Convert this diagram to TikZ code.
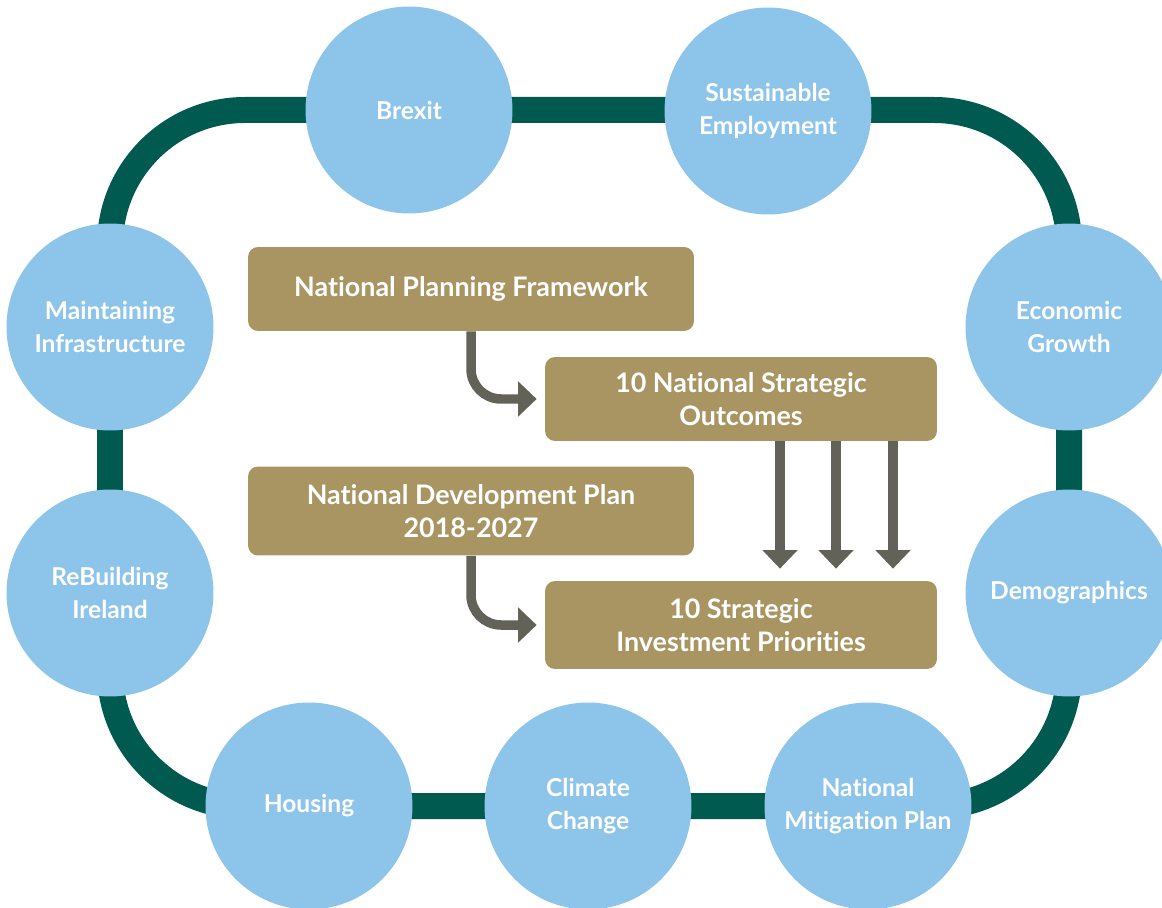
\documentclass[tikz,border=0pt]{standalone}
\usepackage{fontspec}
\setmainfont{Lato}[Ligatures=NoCommon]
\usetikzlibrary{arrows.meta,positioning}
\definecolor{track}{HTML}{005A50}
\definecolor{bubble}{HTML}{8CC4EA}
\definecolor{khaki}{HTML}{A89562}
\definecolor{arrgrey}{HTML}{626258}

\begin{document}
\begin{tikzpicture}[x=0.02cm, y=-0.02cm,
    topic/.style={circle, fill=bubble, minimum size=4.14cm, inner sep=0pt,
        align=center, text=white, font=\bfseries\fontsize{14}{18.3}\selectfont},
    plan/.style={rectangle, rounded corners=0.2cm, fill=khaki, inner sep=0pt,
        align=center, text=white, font=\bfseries\fontsize{15.3}{18.5}\selectfont},
    link/.style={draw=arrgrey, line width=0.19cm, rounded corners=0.6cm,
        -{Triangle[width=0.68cm, length=0.37cm]}},
]
    \useasboundingbox (0,0) rectangle (1162,908);
    % the loop behind the topics
    \draw[track, line width=0.52cm, rounded corners=2.7cm]
        (110,110) rectangle (1069,806);

    \node[topic] (brexit) at (409,110) {Brexit};
    \node[topic] (employ) at (768,111) {Sustainable\\Employment};
    \node[topic] (growth) at (1069,327) {Economic\\Growth};
    \node[topic] (demog) at (1069,593) {Demographics};
    \node[topic] (mitig) at (868,806) {National\\Mitigation Plan};
    \node[topic] (climate) at (588,806) {Climate\\Change};
    \node[topic] (housing) at (309,806) {Housing};
    \node[topic] (rebuild) at (110,593) {ReBuilding\\Ireland};
    \node[topic] (maintain) at (110,327) {Maintaining\\Infrastructure};

    \node[plan, minimum width=8.92cm, minimum height=1.68cm] (npf) at (471,289) {National Planning Framework};
    \node[plan, minimum width=7.84cm, minimum height=1.68cm] (nso) at (741,399) {10 National Strategic\\Outcomes};
    \node[plan, minimum width=8.92cm, minimum height=1.78cm] (ndp) at (471,511) {National Development Plan\\2018-2027};
    \node[plan, minimum width=7.84cm, minimum height=1.76cm] (sip) at (741,625) {10 Strategic\\Investment Priorities};

    \draw[link, shorten >=0.16cm] (npf.south) |- (nso.west);
    \draw[link, shorten >=0.16cm] (ndp.south) |- (sip.west);
    \foreach \dx in {39,95,152}
        \draw[link, shorten >=0.24cm] ([xshift=\dx*0.02cm]nso.south) -- ([xshift=\dx*0.02cm]sip.north);
\end{tikzpicture}
\end{document}
